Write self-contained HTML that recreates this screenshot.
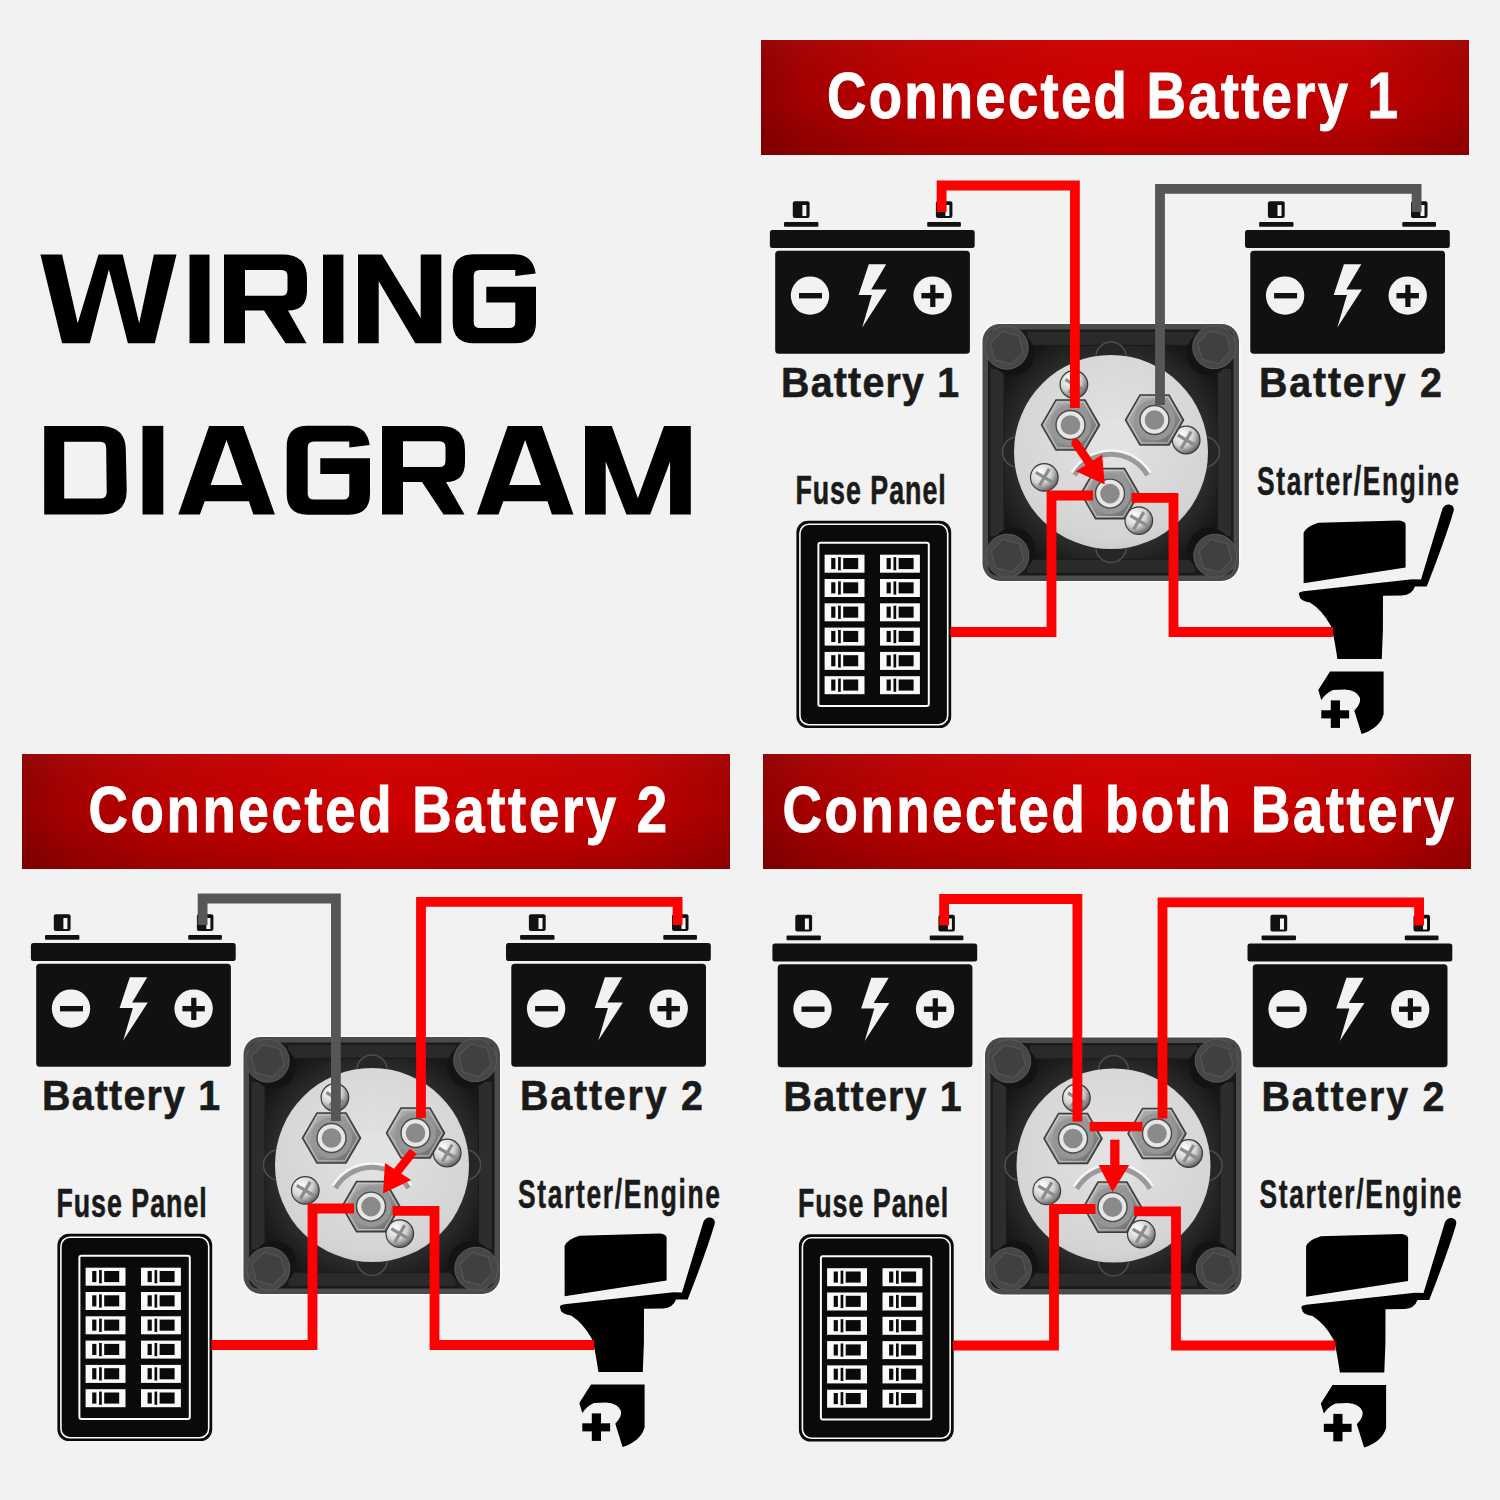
<!DOCTYPE html><html><head><meta charset="utf-8"><style>html,body{margin:0;padding:0;background:#f2f2f2;}svg{display:block;}</style></head><body>
<svg width="1500" height="1500" viewBox="0 0 1500 1500">
<defs>
<linearGradient id="gHdr" x1="0" y1="0" x2="1" y2="0">
<stop offset="0" stop-color="#900000"/><stop offset="0.06" stop-color="#a40000"/><stop offset="0.2" stop-color="#bb0000"/><stop offset="0.5" stop-color="#cf0000"/><stop offset="0.85" stop-color="#c20000"/><stop offset="1" stop-color="#a40000"/>
</linearGradient>
<linearGradient id="gHdrV" x1="0" y1="0" x2="0" y2="1">
<stop offset="0" stop-color="#ffffff" stop-opacity="0.03"/><stop offset="0.5" stop-color="#000000" stop-opacity="0"/><stop offset="1" stop-color="#000000" stop-opacity="0.16"/>
</linearGradient>
<radialGradient id="gDisc" cx="0.5" cy="0.4" r="0.65">
<stop offset="0" stop-color="#e2e2e2"/><stop offset="0.85" stop-color="#d4d4d4"/><stop offset="1" stop-color="#c6c6c6"/>
</radialGradient>
<radialGradient id="gRecess" cx="0.5" cy="0.5" r="0.6">
<stop offset="0.55" stop-color="#3e3e3e"/><stop offset="1" stop-color="#161616"/>
</radialGradient>
<radialGradient id="gScrew" cx="0.35" cy="0.3" r="0.75">
<stop offset="0" stop-color="#ffffff"/><stop offset="0.55" stop-color="#d2d2d2"/><stop offset="1" stop-color="#5a5a5a"/>
</radialGradient>
<linearGradient id="gNut" x1="0" y1="0" x2="1" y2="1">
<stop offset="0" stop-color="#b8b8b8"/><stop offset="0.5" stop-color="#929292"/><stop offset="1" stop-color="#666666"/>
</linearGradient>
</defs>
<rect x="0" y="0" width="1500" height="1500" fill="#f2f2f2"/>
<g fill="#000" fill-rule="evenodd"><path d="M40.4,254.6 L62.1,254.6 L77.7,323.2 L98.5,254.6 L122.7,254.6 L139.2,323.2 L153.9,254.6 L176.5,254.6 L154.8,343.2 L127.9,343.2 L108.9,269.5 L89.8,343.2 L62.1,343.2 Z"/><rect x="189.5" y="254.6" width="20" height="88.6"/><path transform="translate(224,254.6)" d="M0,0 L59,0 Q83,0 83,24 L83,36 Q83,56 64,56 L82.5,88.6 L61.5,88.6 L40,56 L21,56 L21,88.6 L0,88.6 Z M21,15.3 L57.5,15.3 Q63.5,15.3 63.5,21.3 L63.5,35.2 Q63.5,41.2 57.5,41.2 L21,41.2 Z"/><rect x="323" y="254.6" width="20.4" height="88.6"/><path d="M358,254.6 L382,254.6 L420.7,318 L420.7,254.6 L441.3,254.6 L441.3,343.2 L415.3,343.2 L378.7,281.3 L378.7,343.2 L358,343.2 Z"/><path transform="translate(452.7,254.2)" d="M0,21 Q0,0 21,0 L62,0 Q80,0 83,19.2 L62.6,21.8 L62.6,15.8 L27,15.8 Q21,15.8 21,21.8 L21,67.7 Q21,73.7 27,73.7 L56.6,73.7 Q62.6,73.7 62.6,67.7 L62.6,48.2 L33.6,48.2 L33.6,32.5 L83.3,32.5 L83.3,68 Q83.3,89 62.3,89 L21,89 Q0,89 0,68 Z"/><path transform="translate(44.2,425.9)" d="M0,0 L57.5,0 Q81.6,1 81.6,24 L82.5,64 Q82.5,88.6 57.5,88.6 L0,88.6 Z M20,15.9 L55.8,15.9 Q62,15.9 62,22 L62.5,66.5 Q62.5,72.5 56,72.5 L20,72.5 Z"/><rect x="142.5" y="425.9" width="20.8" height="88.6"/><path transform="translate(178.3,425.9)" d="M0,88.6 L30.8,0 L65.1,0 L96.6,88.6 L75,88.6 L70.6,75.3 L26.4,75.3 L21.6,88.6 Z M48.2,14 L32.3,59.1 L64,59.1 Z"/><path transform="translate(286.7,425.7)" d="M0,21 Q0,0 21,0 L62,0 Q80,0 83,19.2 L62.6,21.8 L62.6,15.8 L27,15.8 Q21,15.8 21,21.8 L21,67.7 Q21,73.7 27,73.7 L56.6,73.7 Q62.6,73.7 62.6,67.7 L62.6,48.2 L33.6,48.2 L33.6,32.5 L83.3,32.5 L83.3,68 Q83.3,89 62.3,89 L21,89 Q0,89 0,68 Z"/><path transform="translate(382,425.9)" d="M0,0 L59,0 Q83,0 83,24 L83,36 Q83,56 64,56 L82.5,88.6 L61.5,88.6 L40,56 L21,56 L21,88.6 L0,88.6 Z M21,15.3 L57.5,15.3 Q63.5,15.3 63.5,21.3 L63.5,35.2 Q63.5,41.2 57.5,41.2 L21,41.2 Z"/><path transform="translate(476.9,425.9)" d="M0,88.6 L30.8,0 L65.1,0 L96.6,88.6 L75,88.6 L70.6,75.3 L26.4,75.3 L21.6,88.6 Z M48.2,14 L32.3,59.1 L64,59.1 Z"/><path d="M585,425.9 L611.8,425.9 L637.9,498.2 L664,425.9 L690.8,425.9 L690.8,514.5 L670.1,514.5 L670.1,461.4 L650.2,514.5 L626.4,514.5 L605.7,461.4 L605.7,514.5 L585,514.5 Z"/></g>
<rect x="761" y="40" width="708" height="115" fill="url(#gHdr)"/><rect x="761" y="40" width="708" height="115" fill="url(#gHdrV)"/><text transform="scale(0.84,1)" x="984.52" y="118.5" font-family="'Liberation Sans', sans-serif" font-weight="bold" font-size="65" textLength="679.76" lengthAdjust="spacing" fill="#ffffff" stroke="#ffffff" stroke-width="1.0">Connected Battery 1</text>
<rect x="22" y="754" width="708" height="115" fill="url(#gHdr)"/><rect x="22" y="754" width="708" height="115" fill="url(#gHdrV)"/><text transform="scale(0.84,1)" x="105.24" y="832.5" font-family="'Liberation Sans', sans-serif" font-weight="bold" font-size="65" textLength="688.81" lengthAdjust="spacing" fill="#ffffff" stroke="#ffffff" stroke-width="1.0">Connected Battery 2</text>
<rect x="763" y="754" width="708" height="115" fill="url(#gHdr)"/><rect x="763" y="754" width="708" height="115" fill="url(#gHdrV)"/><text transform="scale(0.84,1)" x="931.67" y="832.5" font-family="'Liberation Sans', sans-serif" font-weight="bold" font-size="65" textLength="799.52" lengthAdjust="spacing" fill="#ffffff" stroke="#ffffff" stroke-width="1.0">Connected both Battery</text>
<g transform="translate(769.9,230.0)"><rect x="14.1" y="-8" width="34.4" height="4.8" rx="1" fill="#111"/><rect x="157.3" y="-8" width="33.7" height="4.8" rx="1" fill="#111"/><rect x="22.9" y="-28.8" width="16.8" height="16.8" rx="2" fill="#111"/><rect x="32.5" y="-25" width="4" height="11" fill="#f4f4f4"/><rect x="166" y="-28.8" width="16.5" height="16.8" rx="2" fill="#111"/><rect x="175.5" y="-25" width="4" height="11" fill="#f4f4f4"/><rect x="0" y="0" width="204.8" height="18" rx="2.5" fill="#111"/><rect x="5.3" y="20.8" width="194.7" height="103" rx="3.5" fill="#111"/><circle cx="40.1" cy="65.6" r="19.2" fill="#f2f2f2"/><rect x="29.1" y="63" width="23" height="5.4" fill="#111"/><circle cx="162.7" cy="65.6" r="19.2" fill="#f2f2f2"/><rect x="151.5" y="63" width="22.4" height="5.4" fill="#111"/><rect x="160.3" y="54.8" width="5.2" height="22.2" fill="#111"/><path d="M98.9,34.2 L116.3,34.2 L101.3,59.6 L116.9,59.6 L92.3,97.4 L101.9,65 L88.7,65 Z" fill="#f2f2f2"/></g><g transform="translate(1245.0,230.0)"><rect x="14.1" y="-8" width="34.4" height="4.8" rx="1" fill="#111"/><rect x="157.3" y="-8" width="33.7" height="4.8" rx="1" fill="#111"/><rect x="22.9" y="-28.8" width="16.8" height="16.8" rx="2" fill="#111"/><rect x="32.5" y="-25" width="4" height="11" fill="#f4f4f4"/><rect x="166" y="-28.8" width="16.5" height="16.8" rx="2" fill="#111"/><rect x="175.5" y="-25" width="4" height="11" fill="#f4f4f4"/><rect x="0" y="0" width="204.8" height="18" rx="2.5" fill="#111"/><rect x="5.3" y="20.8" width="194.7" height="103" rx="3.5" fill="#111"/><circle cx="40.1" cy="65.6" r="19.2" fill="#f2f2f2"/><rect x="29.1" y="63" width="23" height="5.4" fill="#111"/><circle cx="162.7" cy="65.6" r="19.2" fill="#f2f2f2"/><rect x="151.5" y="63" width="22.4" height="5.4" fill="#111"/><rect x="160.3" y="54.8" width="5.2" height="22.2" fill="#111"/><path d="M98.9,34.2 L116.3,34.2 L101.3,59.6 L116.9,59.6 L92.3,97.4 L101.9,65 L88.7,65 Z" fill="#f2f2f2"/></g><g transform="translate(982.5,323.9)"><rect x="-1.5" y="-1.5" width="259.5" height="260" rx="19" fill="#fafafa"/><rect x="0" y="0" width="256.5" height="257" rx="17.5" fill="#4b4b4b"/><rect x="5.5" y="5.5" width="245.5" height="246" rx="9" fill="#1a1a1a"/><rect x="8" y="45" width="13" height="167" fill="#2d2d2d"/><rect x="235.5" y="45" width="13" height="167" fill="#2d2d2d"/><rect x="45" y="8" width="167" height="13" fill="#2a2a2a"/><rect x="45" y="236" width="167" height="13" fill="#2a2a2a"/><rect x="22" y="22" width="212.5" height="213" rx="6" fill="url(#gRecess)"/><circle cx="30.2" cy="29.8" r="22" fill="#131313"/><circle cx="24.2" cy="23.8" r="21.5" fill="#474747" stroke="#5a5a5a" stroke-width="1"/><polygon points="40.6,28.2 28.6,40.2 12.2,35.8 7.8,19.4 19.8,7.4 36.2,11.8" fill="#404040" stroke="#545454" stroke-width="1.2"/><circle cx="225.7" cy="29.3" r="22" fill="#131313"/><circle cx="231.7" cy="23.3" r="21.5" fill="#474747" stroke="#5a5a5a" stroke-width="1"/><polygon points="248.1,27.7 236.1,39.7 219.7,35.3 215.3,18.9 227.3,6.9 243.7,11.3" fill="#404040" stroke="#545454" stroke-width="1.2"/><circle cx="30.9" cy="225.8" r="22" fill="#131313"/><circle cx="24.9" cy="231.8" r="21.5" fill="#474747" stroke="#5a5a5a" stroke-width="1"/><polygon points="41.3,236.2 29.3,248.2 12.9,243.8 8.5,227.4 20.5,215.4 36.9,219.8" fill="#404040" stroke="#545454" stroke-width="1.2"/><circle cx="226.8" cy="225.8" r="22" fill="#131313"/><circle cx="232.8" cy="231.8" r="21.5" fill="#474747" stroke="#5a5a5a" stroke-width="1"/><polygon points="249.2,236.2 237.2,248.2 220.8,243.8 216.4,227.4 228.4,215.4 244.8,219.8" fill="#404040" stroke="#545454" stroke-width="1.2"/><circle cx="128.5" cy="33" r="15" fill="#262626" stroke="#4e4e4e" stroke-width="1.5"/><circle cx="35" cy="128" r="15" fill="#262626" stroke="#4e4e4e" stroke-width="1.5"/><circle cx="222" cy="128" r="15" fill="#262626" stroke="#4e4e4e" stroke-width="1.5"/><circle cx="128.5" cy="223.5" r="15" fill="#262626" stroke="#4e4e4e" stroke-width="1.5"/><circle cx="128.5" cy="128.1" r="97" fill="url(#gDisc)"/><polygon points="88,98 172,93 128,185" fill="#e4e4e4" opacity="0.55"/><path d="M91.5,151 A43,43 0 0 1 165.5,151" fill="none" stroke="#9a9a9a" stroke-width="6"/><path d="M89,149 A46,46 0 0 1 168,149" fill="none" stroke="#f6f6f6" stroke-width="2.5"/><circle cx="91.4" cy="60.6" r="13.8" fill="url(#gScrew)" stroke="#3a3a3a" stroke-width="1.2"/><path d="M82.9,55.6 L99.9,65.6 M96.4,52.1 L86.4,69.1" stroke="#8c8c8c" stroke-width="3.2"/><circle cx="203.7" cy="116.1" r="13.8" fill="url(#gScrew)" stroke="#3a3a3a" stroke-width="1.2"/><path d="M195.2,111.1 L212.2,121.1 M208.7,107.6 L198.7,124.6" stroke="#8c8c8c" stroke-width="3.2"/><circle cx="61.8" cy="153.5" r="13.8" fill="url(#gScrew)" stroke="#3a3a3a" stroke-width="1.2"/><path d="M53.3,148.5 L70.3,158.5 M66.8,145.0 L56.8,162.0" stroke="#8c8c8c" stroke-width="3.2"/><circle cx="156.3" cy="196.7" r="13.8" fill="url(#gScrew)" stroke="#3a3a3a" stroke-width="1.2"/><path d="M147.8,191.7 L164.8,201.7 M161.3,188.2 L151.3,205.2" stroke="#8c8c8c" stroke-width="3.2"/><polygon points="117.0,101.1 102.5,126.2 73.5,126.2 59.0,101.1 73.5,76.0 102.5,76.0" fill="url(#gNut)" stroke="#3c3c3c" stroke-width="1.5"/><polygon points="114.5,101.1 101.2,124.0 74.8,124.0 61.5,101.1 74.7,78.2 101.2,78.2" fill="none" stroke="#d8d8d8" stroke-width="1" opacity="0.7"/><circle cx="88" cy="101.1" r="20.5" fill="#969696"/><circle cx="88" cy="101.1" r="15.2" fill="#4a4a4a"/><circle cx="88" cy="101.1" r="11.8" fill="#8a8a8a" stroke="#e6e6e6" stroke-width="4"/><polygon points="201.0,96.1 186.5,121.2 157.5,121.2 143.0,96.1 157.5,71.0 186.5,71.0" fill="url(#gNut)" stroke="#3c3c3c" stroke-width="1.5"/><polygon points="198.5,96.1 185.2,119.0 158.8,119.0 145.5,96.1 158.8,73.2 185.2,73.2" fill="none" stroke="#d8d8d8" stroke-width="1" opacity="0.7"/><circle cx="172" cy="96.1" r="20.5" fill="#969696"/><circle cx="172" cy="96.1" r="15.2" fill="#4a4a4a"/><circle cx="172" cy="96.1" r="11.8" fill="#8a8a8a" stroke="#e6e6e6" stroke-width="4"/><polygon points="156.5,169.7 142.0,194.8 113.0,194.8 98.5,169.7 113.0,144.6 142.0,144.6" fill="url(#gNut)" stroke="#3c3c3c" stroke-width="1.5"/><polygon points="154.0,169.7 140.8,192.6 114.2,192.6 101.0,169.7 114.2,146.8 140.8,146.8" fill="none" stroke="#d8d8d8" stroke-width="1" opacity="0.7"/><circle cx="127.5" cy="169.7" r="20.5" fill="#969696"/><circle cx="127.5" cy="169.7" r="15.2" fill="#4a4a4a"/><circle cx="127.5" cy="169.7" r="11.8" fill="#8a8a8a" stroke="#e6e6e6" stroke-width="4"/></g><g transform="translate(796.4,520.8)"><rect x="0" y="0" width="154.8" height="207.3" rx="11.5" fill="#0a0a0a"/><rect x="3.5" y="3.4" width="147.8" height="200.5" rx="9" fill="none" stroke="#fafafa" stroke-width="1.6"/><rect x="22" y="22" width="110.4" height="163.2" rx="2" fill="none" stroke="#fafafa" stroke-width="2"/><rect x="28.2" y="33.9" width="39.9" height="18" fill="#fafafa"/><rect x="34.8" y="37.2" width="4.2" height="11.1" fill="#0a0a0a"/><rect x="41.7" y="36.3" width="2.7" height="13.2" fill="#0a0a0a"/><rect x="46.8" y="37.2" width="15" height="11.1" fill="#0a0a0a"/><rect x="28.2" y="58.2" width="39.9" height="18" fill="#fafafa"/><rect x="34.8" y="61.5" width="4.2" height="11.1" fill="#0a0a0a"/><rect x="41.7" y="60.6" width="2.7" height="13.2" fill="#0a0a0a"/><rect x="46.8" y="61.5" width="15" height="11.1" fill="#0a0a0a"/><rect x="28.2" y="82.5" width="39.9" height="18" fill="#fafafa"/><rect x="34.8" y="85.8" width="4.2" height="11.1" fill="#0a0a0a"/><rect x="41.7" y="84.9" width="2.7" height="13.2" fill="#0a0a0a"/><rect x="46.8" y="85.8" width="15" height="11.1" fill="#0a0a0a"/><rect x="28.2" y="106.8" width="39.9" height="18" fill="#fafafa"/><rect x="34.8" y="110.1" width="4.2" height="11.1" fill="#0a0a0a"/><rect x="41.7" y="109.2" width="2.7" height="13.2" fill="#0a0a0a"/><rect x="46.8" y="110.1" width="15" height="11.1" fill="#0a0a0a"/><rect x="28.2" y="131.1" width="39.9" height="18" fill="#fafafa"/><rect x="34.8" y="134.4" width="4.2" height="11.1" fill="#0a0a0a"/><rect x="41.7" y="133.5" width="2.7" height="13.2" fill="#0a0a0a"/><rect x="46.8" y="134.4" width="15" height="11.1" fill="#0a0a0a"/><rect x="28.2" y="155.4" width="39.9" height="18" fill="#fafafa"/><rect x="34.8" y="158.7" width="4.2" height="11.1" fill="#0a0a0a"/><rect x="41.7" y="157.8" width="2.7" height="13.2" fill="#0a0a0a"/><rect x="46.8" y="158.7" width="15" height="11.1" fill="#0a0a0a"/><rect x="83.6" y="33.9" width="39.9" height="18" fill="#fafafa"/><rect x="90.2" y="37.2" width="4.2" height="11.1" fill="#0a0a0a"/><rect x="97.1" y="36.3" width="2.7" height="13.2" fill="#0a0a0a"/><rect x="102.2" y="37.2" width="15" height="11.1" fill="#0a0a0a"/><rect x="83.6" y="58.2" width="39.9" height="18" fill="#fafafa"/><rect x="90.2" y="61.5" width="4.2" height="11.1" fill="#0a0a0a"/><rect x="97.1" y="60.6" width="2.7" height="13.2" fill="#0a0a0a"/><rect x="102.2" y="61.5" width="15" height="11.1" fill="#0a0a0a"/><rect x="83.6" y="82.5" width="39.9" height="18" fill="#fafafa"/><rect x="90.2" y="85.8" width="4.2" height="11.1" fill="#0a0a0a"/><rect x="97.1" y="84.9" width="2.7" height="13.2" fill="#0a0a0a"/><rect x="102.2" y="85.8" width="15" height="11.1" fill="#0a0a0a"/><rect x="83.6" y="106.8" width="39.9" height="18" fill="#fafafa"/><rect x="90.2" y="110.1" width="4.2" height="11.1" fill="#0a0a0a"/><rect x="97.1" y="109.2" width="2.7" height="13.2" fill="#0a0a0a"/><rect x="102.2" y="110.1" width="15" height="11.1" fill="#0a0a0a"/><rect x="83.6" y="131.1" width="39.9" height="18" fill="#fafafa"/><rect x="90.2" y="134.4" width="4.2" height="11.1" fill="#0a0a0a"/><rect x="97.1" y="133.5" width="2.7" height="13.2" fill="#0a0a0a"/><rect x="102.2" y="134.4" width="15" height="11.1" fill="#0a0a0a"/><rect x="83.6" y="155.4" width="39.9" height="18" fill="#fafafa"/><rect x="90.2" y="158.7" width="4.2" height="11.1" fill="#0a0a0a"/><rect x="97.1" y="157.8" width="2.7" height="13.2" fill="#0a0a0a"/><rect x="102.2" y="158.7" width="15" height="11.1" fill="#0a0a0a"/></g><g transform="translate(0.0,0.0)" fill="#000"><path d="M1303.6,583.3 L1303.6,533 Q1305,527 1318.3,522.7 L1398.8,520.4 Q1405.6,521 1405.6,525 L1405.6,567.4 Z"/><path d="M1299.6,596 Q1297,592 1303.6,591.2 L1412.4,579.3 L1421,579.5 L1442.5,508.5 Q1445,504 1449.5,504.5 Q1455,506 1453.5,511.5 Q1445,540 1426.7,586.5 L1415,586.5 Q1412,595 1402,595.5 L1383,595.8 L1382.9,630 L1381.8,659 L1337.4,659 Q1333,630 1330.8,625.8 Q1322,610 1310,602.6 Q1299,600 1299.6,596 Z"/><path d="M1330,671.4 L1383.6,671.4 L1383.6,714.3 Q1380,728 1361.6,734.1 L1354.3,710.7 Q1361,704 1360,698 Q1357,690 1345,689.5 L1333,690 Q1326,693 1321.3,700 L1318.3,690.1 Z"/><rect x="1321.3" y="710.3" width="27.8" height="8.1"/><rect x="1330.8" y="700.4" width="9.2" height="27.5"/></g><text transform="scale(0.92,1)" x="848.91" y="397.2" font-family="'Liberation Sans', sans-serif" font-weight="bold" font-size="42.8" textLength="193.70" lengthAdjust="spacing" fill="#1a1a1a" stroke="#1a1a1a" stroke-width="0.6">Battery 1</text><text transform="scale(0.92,1)" x="1368.48" y="397.2" font-family="'Liberation Sans', sans-serif" font-weight="bold" font-size="42.8" textLength="198.91" lengthAdjust="spacing" fill="#1a1a1a" stroke="#1a1a1a" stroke-width="0.6">Battery 2</text><text transform="scale(0.67,1)" x="1187.16" y="503.9" font-family="'Liberation Sans', sans-serif" font-weight="bold" font-size="40" textLength="224.48" lengthAdjust="spacing" fill="#1a1a1a" stroke="#1a1a1a" stroke-width="0.6">Fuse Panel</text><text transform="scale(0.66,1)" x="1904.55" y="495.0" font-family="'Liberation Sans', sans-serif" font-weight="bold" font-size="40" textLength="306.06" lengthAdjust="spacing" fill="#1a1a1a" stroke="#1a1a1a" stroke-width="0.5">Starter/Engine</text><path d="M1093.0,495.5 L1051.5,495.5 L1051.5,632.0 L950.4,632.0" fill="none" stroke="#ff0000" stroke-width="9.8" stroke-linejoin="miter" stroke-linecap="butt"/><path d="M1131.6,497.9 L1173.5,497.9 L1173.5,632.0 L1333.0,632.0" fill="none" stroke="#ff0000" stroke-width="9.8" stroke-linejoin="miter" stroke-linecap="butt"/><path d="M941.6,212.0 L941.6,185.5 L1074.9,185.5 L1074.9,408.0" fill="none" stroke="#ff0000" stroke-width="9.8" stroke-linejoin="miter" stroke-linecap="butt"/><path d="M1416.6,212.0 L1416.6,188.8 L1160.0,188.8 L1160.0,405.0" fill="none" stroke="#565656" stroke-width="9.8" stroke-linejoin="miter" stroke-linecap="butt"/><path d="M1075.2,442.5 L1090.0,464.0" fill="none" stroke="#ff0000" stroke-width="8.5" stroke-linejoin="miter" stroke-linecap="butt"/><circle cx="1075.6" cy="443" r="4.25" fill="#ff0000"/><polygon points="1076,471.2 1102.1,454.7 1104.8,484.5" fill="#ff0000"/>
<g transform="translate(30.9,943.0)"><rect x="14.1" y="-8" width="34.4" height="4.8" rx="1" fill="#111"/><rect x="157.3" y="-8" width="33.7" height="4.8" rx="1" fill="#111"/><rect x="22.9" y="-28.8" width="16.8" height="16.8" rx="2" fill="#111"/><rect x="32.5" y="-25" width="4" height="11" fill="#f4f4f4"/><rect x="166" y="-28.8" width="16.5" height="16.8" rx="2" fill="#111"/><rect x="175.5" y="-25" width="4" height="11" fill="#f4f4f4"/><rect x="0" y="0" width="204.8" height="18" rx="2.5" fill="#111"/><rect x="5.3" y="20.8" width="194.7" height="103" rx="3.5" fill="#111"/><circle cx="40.1" cy="65.6" r="19.2" fill="#f2f2f2"/><rect x="29.1" y="63" width="23" height="5.4" fill="#111"/><circle cx="162.7" cy="65.6" r="19.2" fill="#f2f2f2"/><rect x="151.5" y="63" width="22.4" height="5.4" fill="#111"/><rect x="160.3" y="54.8" width="5.2" height="22.2" fill="#111"/><path d="M98.9,34.2 L116.3,34.2 L101.3,59.6 L116.9,59.6 L92.3,97.4 L101.9,65 L88.7,65 Z" fill="#f2f2f2"/></g><g transform="translate(506.0,943.0)"><rect x="14.1" y="-8" width="34.4" height="4.8" rx="1" fill="#111"/><rect x="157.3" y="-8" width="33.7" height="4.8" rx="1" fill="#111"/><rect x="22.9" y="-28.8" width="16.8" height="16.8" rx="2" fill="#111"/><rect x="32.5" y="-25" width="4" height="11" fill="#f4f4f4"/><rect x="166" y="-28.8" width="16.5" height="16.8" rx="2" fill="#111"/><rect x="175.5" y="-25" width="4" height="11" fill="#f4f4f4"/><rect x="0" y="0" width="204.8" height="18" rx="2.5" fill="#111"/><rect x="5.3" y="20.8" width="194.7" height="103" rx="3.5" fill="#111"/><circle cx="40.1" cy="65.6" r="19.2" fill="#f2f2f2"/><rect x="29.1" y="63" width="23" height="5.4" fill="#111"/><circle cx="162.7" cy="65.6" r="19.2" fill="#f2f2f2"/><rect x="151.5" y="63" width="22.4" height="5.4" fill="#111"/><rect x="160.3" y="54.8" width="5.2" height="22.2" fill="#111"/><path d="M98.9,34.2 L116.3,34.2 L101.3,59.6 L116.9,59.6 L92.3,97.4 L101.9,65 L88.7,65 Z" fill="#f2f2f2"/></g><g transform="translate(243.5,1036.9)"><rect x="-1.5" y="-1.5" width="259.5" height="260" rx="19" fill="#fafafa"/><rect x="0" y="0" width="256.5" height="257" rx="17.5" fill="#4b4b4b"/><rect x="5.5" y="5.5" width="245.5" height="246" rx="9" fill="#1a1a1a"/><rect x="8" y="45" width="13" height="167" fill="#2d2d2d"/><rect x="235.5" y="45" width="13" height="167" fill="#2d2d2d"/><rect x="45" y="8" width="167" height="13" fill="#2a2a2a"/><rect x="45" y="236" width="167" height="13" fill="#2a2a2a"/><rect x="22" y="22" width="212.5" height="213" rx="6" fill="url(#gRecess)"/><circle cx="30.2" cy="29.8" r="22" fill="#131313"/><circle cx="24.2" cy="23.8" r="21.5" fill="#474747" stroke="#5a5a5a" stroke-width="1"/><polygon points="40.6,28.2 28.6,40.2 12.2,35.8 7.8,19.4 19.8,7.4 36.2,11.8" fill="#404040" stroke="#545454" stroke-width="1.2"/><circle cx="225.7" cy="29.3" r="22" fill="#131313"/><circle cx="231.7" cy="23.3" r="21.5" fill="#474747" stroke="#5a5a5a" stroke-width="1"/><polygon points="248.1,27.7 236.1,39.7 219.7,35.3 215.3,18.9 227.3,6.9 243.7,11.3" fill="#404040" stroke="#545454" stroke-width="1.2"/><circle cx="30.9" cy="225.8" r="22" fill="#131313"/><circle cx="24.9" cy="231.8" r="21.5" fill="#474747" stroke="#5a5a5a" stroke-width="1"/><polygon points="41.3,236.2 29.3,248.2 12.9,243.8 8.5,227.4 20.5,215.4 36.9,219.8" fill="#404040" stroke="#545454" stroke-width="1.2"/><circle cx="226.8" cy="225.8" r="22" fill="#131313"/><circle cx="232.8" cy="231.8" r="21.5" fill="#474747" stroke="#5a5a5a" stroke-width="1"/><polygon points="249.2,236.2 237.2,248.2 220.8,243.8 216.4,227.4 228.4,215.4 244.8,219.8" fill="#404040" stroke="#545454" stroke-width="1.2"/><circle cx="128.5" cy="33" r="15" fill="#262626" stroke="#4e4e4e" stroke-width="1.5"/><circle cx="35" cy="128" r="15" fill="#262626" stroke="#4e4e4e" stroke-width="1.5"/><circle cx="222" cy="128" r="15" fill="#262626" stroke="#4e4e4e" stroke-width="1.5"/><circle cx="128.5" cy="223.5" r="15" fill="#262626" stroke="#4e4e4e" stroke-width="1.5"/><circle cx="128.5" cy="128.1" r="97" fill="url(#gDisc)"/><polygon points="88,98 172,93 128,185" fill="#e4e4e4" opacity="0.55"/><path d="M91.5,151 A43,43 0 0 1 165.5,151" fill="none" stroke="#9a9a9a" stroke-width="6"/><path d="M89,149 A46,46 0 0 1 168,149" fill="none" stroke="#f6f6f6" stroke-width="2.5"/><circle cx="91.4" cy="60.6" r="13.8" fill="url(#gScrew)" stroke="#3a3a3a" stroke-width="1.2"/><path d="M82.9,55.6 L99.9,65.6 M96.4,52.1 L86.4,69.1" stroke="#8c8c8c" stroke-width="3.2"/><circle cx="203.7" cy="116.1" r="13.8" fill="url(#gScrew)" stroke="#3a3a3a" stroke-width="1.2"/><path d="M195.2,111.1 L212.2,121.1 M208.7,107.6 L198.7,124.6" stroke="#8c8c8c" stroke-width="3.2"/><circle cx="61.8" cy="153.5" r="13.8" fill="url(#gScrew)" stroke="#3a3a3a" stroke-width="1.2"/><path d="M53.3,148.5 L70.3,158.5 M66.8,145.0 L56.8,162.0" stroke="#8c8c8c" stroke-width="3.2"/><circle cx="156.3" cy="196.7" r="13.8" fill="url(#gScrew)" stroke="#3a3a3a" stroke-width="1.2"/><path d="M147.8,191.7 L164.8,201.7 M161.3,188.2 L151.3,205.2" stroke="#8c8c8c" stroke-width="3.2"/><polygon points="117.0,101.1 102.5,126.2 73.5,126.2 59.0,101.1 73.5,76.0 102.5,76.0" fill="url(#gNut)" stroke="#3c3c3c" stroke-width="1.5"/><polygon points="114.5,101.1 101.2,124.0 74.8,124.0 61.5,101.1 74.7,78.2 101.2,78.2" fill="none" stroke="#d8d8d8" stroke-width="1" opacity="0.7"/><circle cx="88" cy="101.1" r="20.5" fill="#969696"/><circle cx="88" cy="101.1" r="15.2" fill="#4a4a4a"/><circle cx="88" cy="101.1" r="11.8" fill="#8a8a8a" stroke="#e6e6e6" stroke-width="4"/><polygon points="201.0,96.1 186.5,121.2 157.5,121.2 143.0,96.1 157.5,71.0 186.5,71.0" fill="url(#gNut)" stroke="#3c3c3c" stroke-width="1.5"/><polygon points="198.5,96.1 185.2,119.0 158.8,119.0 145.5,96.1 158.8,73.2 185.2,73.2" fill="none" stroke="#d8d8d8" stroke-width="1" opacity="0.7"/><circle cx="172" cy="96.1" r="20.5" fill="#969696"/><circle cx="172" cy="96.1" r="15.2" fill="#4a4a4a"/><circle cx="172" cy="96.1" r="11.8" fill="#8a8a8a" stroke="#e6e6e6" stroke-width="4"/><polygon points="156.5,169.7 142.0,194.8 113.0,194.8 98.5,169.7 113.0,144.6 142.0,144.6" fill="url(#gNut)" stroke="#3c3c3c" stroke-width="1.5"/><polygon points="154.0,169.7 140.8,192.6 114.2,192.6 101.0,169.7 114.2,146.8 140.8,146.8" fill="none" stroke="#d8d8d8" stroke-width="1" opacity="0.7"/><circle cx="127.5" cy="169.7" r="20.5" fill="#969696"/><circle cx="127.5" cy="169.7" r="15.2" fill="#4a4a4a"/><circle cx="127.5" cy="169.7" r="11.8" fill="#8a8a8a" stroke="#e6e6e6" stroke-width="4"/></g><g transform="translate(57.4,1233.8)"><rect x="0" y="0" width="154.8" height="207.3" rx="11.5" fill="#0a0a0a"/><rect x="3.5" y="3.4" width="147.8" height="200.5" rx="9" fill="none" stroke="#fafafa" stroke-width="1.6"/><rect x="22" y="22" width="110.4" height="163.2" rx="2" fill="none" stroke="#fafafa" stroke-width="2"/><rect x="28.2" y="33.9" width="39.9" height="18" fill="#fafafa"/><rect x="34.8" y="37.2" width="4.2" height="11.1" fill="#0a0a0a"/><rect x="41.7" y="36.3" width="2.7" height="13.2" fill="#0a0a0a"/><rect x="46.8" y="37.2" width="15" height="11.1" fill="#0a0a0a"/><rect x="28.2" y="58.2" width="39.9" height="18" fill="#fafafa"/><rect x="34.8" y="61.5" width="4.2" height="11.1" fill="#0a0a0a"/><rect x="41.7" y="60.6" width="2.7" height="13.2" fill="#0a0a0a"/><rect x="46.8" y="61.5" width="15" height="11.1" fill="#0a0a0a"/><rect x="28.2" y="82.5" width="39.9" height="18" fill="#fafafa"/><rect x="34.8" y="85.8" width="4.2" height="11.1" fill="#0a0a0a"/><rect x="41.7" y="84.9" width="2.7" height="13.2" fill="#0a0a0a"/><rect x="46.8" y="85.8" width="15" height="11.1" fill="#0a0a0a"/><rect x="28.2" y="106.8" width="39.9" height="18" fill="#fafafa"/><rect x="34.8" y="110.1" width="4.2" height="11.1" fill="#0a0a0a"/><rect x="41.7" y="109.2" width="2.7" height="13.2" fill="#0a0a0a"/><rect x="46.8" y="110.1" width="15" height="11.1" fill="#0a0a0a"/><rect x="28.2" y="131.1" width="39.9" height="18" fill="#fafafa"/><rect x="34.8" y="134.4" width="4.2" height="11.1" fill="#0a0a0a"/><rect x="41.7" y="133.5" width="2.7" height="13.2" fill="#0a0a0a"/><rect x="46.8" y="134.4" width="15" height="11.1" fill="#0a0a0a"/><rect x="28.2" y="155.4" width="39.9" height="18" fill="#fafafa"/><rect x="34.8" y="158.7" width="4.2" height="11.1" fill="#0a0a0a"/><rect x="41.7" y="157.8" width="2.7" height="13.2" fill="#0a0a0a"/><rect x="46.8" y="158.7" width="15" height="11.1" fill="#0a0a0a"/><rect x="83.6" y="33.9" width="39.9" height="18" fill="#fafafa"/><rect x="90.2" y="37.2" width="4.2" height="11.1" fill="#0a0a0a"/><rect x="97.1" y="36.3" width="2.7" height="13.2" fill="#0a0a0a"/><rect x="102.2" y="37.2" width="15" height="11.1" fill="#0a0a0a"/><rect x="83.6" y="58.2" width="39.9" height="18" fill="#fafafa"/><rect x="90.2" y="61.5" width="4.2" height="11.1" fill="#0a0a0a"/><rect x="97.1" y="60.6" width="2.7" height="13.2" fill="#0a0a0a"/><rect x="102.2" y="61.5" width="15" height="11.1" fill="#0a0a0a"/><rect x="83.6" y="82.5" width="39.9" height="18" fill="#fafafa"/><rect x="90.2" y="85.8" width="4.2" height="11.1" fill="#0a0a0a"/><rect x="97.1" y="84.9" width="2.7" height="13.2" fill="#0a0a0a"/><rect x="102.2" y="85.8" width="15" height="11.1" fill="#0a0a0a"/><rect x="83.6" y="106.8" width="39.9" height="18" fill="#fafafa"/><rect x="90.2" y="110.1" width="4.2" height="11.1" fill="#0a0a0a"/><rect x="97.1" y="109.2" width="2.7" height="13.2" fill="#0a0a0a"/><rect x="102.2" y="110.1" width="15" height="11.1" fill="#0a0a0a"/><rect x="83.6" y="131.1" width="39.9" height="18" fill="#fafafa"/><rect x="90.2" y="134.4" width="4.2" height="11.1" fill="#0a0a0a"/><rect x="97.1" y="133.5" width="2.7" height="13.2" fill="#0a0a0a"/><rect x="102.2" y="134.4" width="15" height="11.1" fill="#0a0a0a"/><rect x="83.6" y="155.4" width="39.9" height="18" fill="#fafafa"/><rect x="90.2" y="158.7" width="4.2" height="11.1" fill="#0a0a0a"/><rect x="97.1" y="157.8" width="2.7" height="13.2" fill="#0a0a0a"/><rect x="102.2" y="158.7" width="15" height="11.1" fill="#0a0a0a"/></g><g transform="translate(-739.0,713.0)" fill="#000"><path d="M1303.6,583.3 L1303.6,533 Q1305,527 1318.3,522.7 L1398.8,520.4 Q1405.6,521 1405.6,525 L1405.6,567.4 Z"/><path d="M1299.6,596 Q1297,592 1303.6,591.2 L1412.4,579.3 L1421,579.5 L1442.5,508.5 Q1445,504 1449.5,504.5 Q1455,506 1453.5,511.5 Q1445,540 1426.7,586.5 L1415,586.5 Q1412,595 1402,595.5 L1383,595.8 L1382.9,630 L1381.8,659 L1337.4,659 Q1333,630 1330.8,625.8 Q1322,610 1310,602.6 Q1299,600 1299.6,596 Z"/><path d="M1330,671.4 L1383.6,671.4 L1383.6,714.3 Q1380,728 1361.6,734.1 L1354.3,710.7 Q1361,704 1360,698 Q1357,690 1345,689.5 L1333,690 Q1326,693 1321.3,700 L1318.3,690.1 Z"/><rect x="1321.3" y="710.3" width="27.8" height="8.1"/><rect x="1330.8" y="700.4" width="9.2" height="27.5"/></g><text transform="scale(0.92,1)" x="45.65" y="1110.2" font-family="'Liberation Sans', sans-serif" font-weight="bold" font-size="42.8" textLength="193.70" lengthAdjust="spacing" fill="#1a1a1a" stroke="#1a1a1a" stroke-width="0.6">Battery 1</text><text transform="scale(0.92,1)" x="565.22" y="1110.2" font-family="'Liberation Sans', sans-serif" font-weight="bold" font-size="42.8" textLength="198.91" lengthAdjust="spacing" fill="#1a1a1a" stroke="#1a1a1a" stroke-width="0.6">Battery 2</text><text transform="scale(0.67,1)" x="84.18" y="1216.9" font-family="'Liberation Sans', sans-serif" font-weight="bold" font-size="40" textLength="224.48" lengthAdjust="spacing" fill="#1a1a1a" stroke="#1a1a1a" stroke-width="0.6">Fuse Panel</text><text transform="scale(0.66,1)" x="784.85" y="1208.0" font-family="'Liberation Sans', sans-serif" font-weight="bold" font-size="40" textLength="306.06" lengthAdjust="spacing" fill="#1a1a1a" stroke="#1a1a1a" stroke-width="0.5">Starter/Engine</text><path d="M354.0,1208.5 L312.5,1208.5 L312.5,1345.0 L211.4,1345.0" fill="none" stroke="#ff0000" stroke-width="9.8" stroke-linejoin="miter" stroke-linecap="butt"/><path d="M392.6,1210.9 L434.5,1210.9 L434.5,1345.0 L594.0,1345.0" fill="none" stroke="#ff0000" stroke-width="9.8" stroke-linejoin="miter" stroke-linecap="butt"/><path d="M202.6,925.0 L202.6,898.5 L335.9,898.5 L335.9,1121.0" fill="none" stroke="#565656" stroke-width="9.8" stroke-linejoin="miter" stroke-linecap="butt"/><path d="M677.6,925.0 L677.6,901.8 L421.0,901.8 L421.0,1118.0" fill="none" stroke="#ff0000" stroke-width="9.8" stroke-linejoin="miter" stroke-linecap="butt"/><path d="M413.3,1151.3 L397.0,1172.0" fill="none" stroke="#ff0000" stroke-width="8.5" stroke-linejoin="miter" stroke-linecap="butt"/><polygon points="385,1163 411.2,1180 383,1193.5" fill="#ff0000"/>
<g transform="translate(772.4,943.5)"><rect x="14.1" y="-8" width="34.4" height="4.8" rx="1" fill="#111"/><rect x="157.3" y="-8" width="33.7" height="4.8" rx="1" fill="#111"/><rect x="22.9" y="-28.8" width="16.8" height="16.8" rx="2" fill="#111"/><rect x="32.5" y="-25" width="4" height="11" fill="#f4f4f4"/><rect x="166" y="-28.8" width="16.5" height="16.8" rx="2" fill="#111"/><rect x="175.5" y="-25" width="4" height="11" fill="#f4f4f4"/><rect x="0" y="0" width="204.8" height="18" rx="2.5" fill="#111"/><rect x="5.3" y="20.8" width="194.7" height="103" rx="3.5" fill="#111"/><circle cx="40.1" cy="65.6" r="19.2" fill="#f2f2f2"/><rect x="29.1" y="63" width="23" height="5.4" fill="#111"/><circle cx="162.7" cy="65.6" r="19.2" fill="#f2f2f2"/><rect x="151.5" y="63" width="22.4" height="5.4" fill="#111"/><rect x="160.3" y="54.8" width="5.2" height="22.2" fill="#111"/><path d="M98.9,34.2 L116.3,34.2 L101.3,59.6 L116.9,59.6 L92.3,97.4 L101.9,65 L88.7,65 Z" fill="#f2f2f2"/></g><g transform="translate(1247.5,943.5)"><rect x="14.1" y="-8" width="34.4" height="4.8" rx="1" fill="#111"/><rect x="157.3" y="-8" width="33.7" height="4.8" rx="1" fill="#111"/><rect x="22.9" y="-28.8" width="16.8" height="16.8" rx="2" fill="#111"/><rect x="32.5" y="-25" width="4" height="11" fill="#f4f4f4"/><rect x="166" y="-28.8" width="16.5" height="16.8" rx="2" fill="#111"/><rect x="175.5" y="-25" width="4" height="11" fill="#f4f4f4"/><rect x="0" y="0" width="204.8" height="18" rx="2.5" fill="#111"/><rect x="5.3" y="20.8" width="194.7" height="103" rx="3.5" fill="#111"/><circle cx="40.1" cy="65.6" r="19.2" fill="#f2f2f2"/><rect x="29.1" y="63" width="23" height="5.4" fill="#111"/><circle cx="162.7" cy="65.6" r="19.2" fill="#f2f2f2"/><rect x="151.5" y="63" width="22.4" height="5.4" fill="#111"/><rect x="160.3" y="54.8" width="5.2" height="22.2" fill="#111"/><path d="M98.9,34.2 L116.3,34.2 L101.3,59.6 L116.9,59.6 L92.3,97.4 L101.9,65 L88.7,65 Z" fill="#f2f2f2"/></g><g transform="translate(985.0,1037.4)"><rect x="-1.5" y="-1.5" width="259.5" height="260" rx="19" fill="#fafafa"/><rect x="0" y="0" width="256.5" height="257" rx="17.5" fill="#4b4b4b"/><rect x="5.5" y="5.5" width="245.5" height="246" rx="9" fill="#1a1a1a"/><rect x="8" y="45" width="13" height="167" fill="#2d2d2d"/><rect x="235.5" y="45" width="13" height="167" fill="#2d2d2d"/><rect x="45" y="8" width="167" height="13" fill="#2a2a2a"/><rect x="45" y="236" width="167" height="13" fill="#2a2a2a"/><rect x="22" y="22" width="212.5" height="213" rx="6" fill="url(#gRecess)"/><circle cx="30.2" cy="29.8" r="22" fill="#131313"/><circle cx="24.2" cy="23.8" r="21.5" fill="#474747" stroke="#5a5a5a" stroke-width="1"/><polygon points="40.6,28.2 28.6,40.2 12.2,35.8 7.8,19.4 19.8,7.4 36.2,11.8" fill="#404040" stroke="#545454" stroke-width="1.2"/><circle cx="225.7" cy="29.3" r="22" fill="#131313"/><circle cx="231.7" cy="23.3" r="21.5" fill="#474747" stroke="#5a5a5a" stroke-width="1"/><polygon points="248.1,27.7 236.1,39.7 219.7,35.3 215.3,18.9 227.3,6.9 243.7,11.3" fill="#404040" stroke="#545454" stroke-width="1.2"/><circle cx="30.9" cy="225.8" r="22" fill="#131313"/><circle cx="24.9" cy="231.8" r="21.5" fill="#474747" stroke="#5a5a5a" stroke-width="1"/><polygon points="41.3,236.2 29.3,248.2 12.9,243.8 8.5,227.4 20.5,215.4 36.9,219.8" fill="#404040" stroke="#545454" stroke-width="1.2"/><circle cx="226.8" cy="225.8" r="22" fill="#131313"/><circle cx="232.8" cy="231.8" r="21.5" fill="#474747" stroke="#5a5a5a" stroke-width="1"/><polygon points="249.2,236.2 237.2,248.2 220.8,243.8 216.4,227.4 228.4,215.4 244.8,219.8" fill="#404040" stroke="#545454" stroke-width="1.2"/><circle cx="128.5" cy="33" r="15" fill="#262626" stroke="#4e4e4e" stroke-width="1.5"/><circle cx="35" cy="128" r="15" fill="#262626" stroke="#4e4e4e" stroke-width="1.5"/><circle cx="222" cy="128" r="15" fill="#262626" stroke="#4e4e4e" stroke-width="1.5"/><circle cx="128.5" cy="223.5" r="15" fill="#262626" stroke="#4e4e4e" stroke-width="1.5"/><circle cx="128.5" cy="128.1" r="97" fill="url(#gDisc)"/><polygon points="88,98 172,93 128,185" fill="#e4e4e4" opacity="0.55"/><path d="M91.5,151 A43,43 0 0 1 165.5,151" fill="none" stroke="#9a9a9a" stroke-width="6"/><path d="M89,149 A46,46 0 0 1 168,149" fill="none" stroke="#f6f6f6" stroke-width="2.5"/><circle cx="91.4" cy="60.6" r="13.8" fill="url(#gScrew)" stroke="#3a3a3a" stroke-width="1.2"/><path d="M82.9,55.6 L99.9,65.6 M96.4,52.1 L86.4,69.1" stroke="#8c8c8c" stroke-width="3.2"/><circle cx="203.7" cy="116.1" r="13.8" fill="url(#gScrew)" stroke="#3a3a3a" stroke-width="1.2"/><path d="M195.2,111.1 L212.2,121.1 M208.7,107.6 L198.7,124.6" stroke="#8c8c8c" stroke-width="3.2"/><circle cx="61.8" cy="153.5" r="13.8" fill="url(#gScrew)" stroke="#3a3a3a" stroke-width="1.2"/><path d="M53.3,148.5 L70.3,158.5 M66.8,145.0 L56.8,162.0" stroke="#8c8c8c" stroke-width="3.2"/><circle cx="156.3" cy="196.7" r="13.8" fill="url(#gScrew)" stroke="#3a3a3a" stroke-width="1.2"/><path d="M147.8,191.7 L164.8,201.7 M161.3,188.2 L151.3,205.2" stroke="#8c8c8c" stroke-width="3.2"/><polygon points="117.0,101.1 102.5,126.2 73.5,126.2 59.0,101.1 73.5,76.0 102.5,76.0" fill="url(#gNut)" stroke="#3c3c3c" stroke-width="1.5"/><polygon points="114.5,101.1 101.2,124.0 74.8,124.0 61.5,101.1 74.7,78.2 101.2,78.2" fill="none" stroke="#d8d8d8" stroke-width="1" opacity="0.7"/><circle cx="88" cy="101.1" r="20.5" fill="#969696"/><circle cx="88" cy="101.1" r="15.2" fill="#4a4a4a"/><circle cx="88" cy="101.1" r="11.8" fill="#8a8a8a" stroke="#e6e6e6" stroke-width="4"/><polygon points="201.0,96.1 186.5,121.2 157.5,121.2 143.0,96.1 157.5,71.0 186.5,71.0" fill="url(#gNut)" stroke="#3c3c3c" stroke-width="1.5"/><polygon points="198.5,96.1 185.2,119.0 158.8,119.0 145.5,96.1 158.8,73.2 185.2,73.2" fill="none" stroke="#d8d8d8" stroke-width="1" opacity="0.7"/><circle cx="172" cy="96.1" r="20.5" fill="#969696"/><circle cx="172" cy="96.1" r="15.2" fill="#4a4a4a"/><circle cx="172" cy="96.1" r="11.8" fill="#8a8a8a" stroke="#e6e6e6" stroke-width="4"/><polygon points="156.5,169.7 142.0,194.8 113.0,194.8 98.5,169.7 113.0,144.6 142.0,144.6" fill="url(#gNut)" stroke="#3c3c3c" stroke-width="1.5"/><polygon points="154.0,169.7 140.8,192.6 114.2,192.6 101.0,169.7 114.2,146.8 140.8,146.8" fill="none" stroke="#d8d8d8" stroke-width="1" opacity="0.7"/><circle cx="127.5" cy="169.7" r="20.5" fill="#969696"/><circle cx="127.5" cy="169.7" r="15.2" fill="#4a4a4a"/><circle cx="127.5" cy="169.7" r="11.8" fill="#8a8a8a" stroke="#e6e6e6" stroke-width="4"/></g><g transform="translate(798.9,1234.3)"><rect x="0" y="0" width="154.8" height="207.3" rx="11.5" fill="#0a0a0a"/><rect x="3.5" y="3.4" width="147.8" height="200.5" rx="9" fill="none" stroke="#fafafa" stroke-width="1.6"/><rect x="22" y="22" width="110.4" height="163.2" rx="2" fill="none" stroke="#fafafa" stroke-width="2"/><rect x="28.2" y="33.9" width="39.9" height="18" fill="#fafafa"/><rect x="34.8" y="37.2" width="4.2" height="11.1" fill="#0a0a0a"/><rect x="41.7" y="36.3" width="2.7" height="13.2" fill="#0a0a0a"/><rect x="46.8" y="37.2" width="15" height="11.1" fill="#0a0a0a"/><rect x="28.2" y="58.2" width="39.9" height="18" fill="#fafafa"/><rect x="34.8" y="61.5" width="4.2" height="11.1" fill="#0a0a0a"/><rect x="41.7" y="60.6" width="2.7" height="13.2" fill="#0a0a0a"/><rect x="46.8" y="61.5" width="15" height="11.1" fill="#0a0a0a"/><rect x="28.2" y="82.5" width="39.9" height="18" fill="#fafafa"/><rect x="34.8" y="85.8" width="4.2" height="11.1" fill="#0a0a0a"/><rect x="41.7" y="84.9" width="2.7" height="13.2" fill="#0a0a0a"/><rect x="46.8" y="85.8" width="15" height="11.1" fill="#0a0a0a"/><rect x="28.2" y="106.8" width="39.9" height="18" fill="#fafafa"/><rect x="34.8" y="110.1" width="4.2" height="11.1" fill="#0a0a0a"/><rect x="41.7" y="109.2" width="2.7" height="13.2" fill="#0a0a0a"/><rect x="46.8" y="110.1" width="15" height="11.1" fill="#0a0a0a"/><rect x="28.2" y="131.1" width="39.9" height="18" fill="#fafafa"/><rect x="34.8" y="134.4" width="4.2" height="11.1" fill="#0a0a0a"/><rect x="41.7" y="133.5" width="2.7" height="13.2" fill="#0a0a0a"/><rect x="46.8" y="134.4" width="15" height="11.1" fill="#0a0a0a"/><rect x="28.2" y="155.4" width="39.9" height="18" fill="#fafafa"/><rect x="34.8" y="158.7" width="4.2" height="11.1" fill="#0a0a0a"/><rect x="41.7" y="157.8" width="2.7" height="13.2" fill="#0a0a0a"/><rect x="46.8" y="158.7" width="15" height="11.1" fill="#0a0a0a"/><rect x="83.6" y="33.9" width="39.9" height="18" fill="#fafafa"/><rect x="90.2" y="37.2" width="4.2" height="11.1" fill="#0a0a0a"/><rect x="97.1" y="36.3" width="2.7" height="13.2" fill="#0a0a0a"/><rect x="102.2" y="37.2" width="15" height="11.1" fill="#0a0a0a"/><rect x="83.6" y="58.2" width="39.9" height="18" fill="#fafafa"/><rect x="90.2" y="61.5" width="4.2" height="11.1" fill="#0a0a0a"/><rect x="97.1" y="60.6" width="2.7" height="13.2" fill="#0a0a0a"/><rect x="102.2" y="61.5" width="15" height="11.1" fill="#0a0a0a"/><rect x="83.6" y="82.5" width="39.9" height="18" fill="#fafafa"/><rect x="90.2" y="85.8" width="4.2" height="11.1" fill="#0a0a0a"/><rect x="97.1" y="84.9" width="2.7" height="13.2" fill="#0a0a0a"/><rect x="102.2" y="85.8" width="15" height="11.1" fill="#0a0a0a"/><rect x="83.6" y="106.8" width="39.9" height="18" fill="#fafafa"/><rect x="90.2" y="110.1" width="4.2" height="11.1" fill="#0a0a0a"/><rect x="97.1" y="109.2" width="2.7" height="13.2" fill="#0a0a0a"/><rect x="102.2" y="110.1" width="15" height="11.1" fill="#0a0a0a"/><rect x="83.6" y="131.1" width="39.9" height="18" fill="#fafafa"/><rect x="90.2" y="134.4" width="4.2" height="11.1" fill="#0a0a0a"/><rect x="97.1" y="133.5" width="2.7" height="13.2" fill="#0a0a0a"/><rect x="102.2" y="134.4" width="15" height="11.1" fill="#0a0a0a"/><rect x="83.6" y="155.4" width="39.9" height="18" fill="#fafafa"/><rect x="90.2" y="158.7" width="4.2" height="11.1" fill="#0a0a0a"/><rect x="97.1" y="157.8" width="2.7" height="13.2" fill="#0a0a0a"/><rect x="102.2" y="158.7" width="15" height="11.1" fill="#0a0a0a"/></g><g transform="translate(2.5,713.5)" fill="#000"><path d="M1303.6,583.3 L1303.6,533 Q1305,527 1318.3,522.7 L1398.8,520.4 Q1405.6,521 1405.6,525 L1405.6,567.4 Z"/><path d="M1299.6,596 Q1297,592 1303.6,591.2 L1412.4,579.3 L1421,579.5 L1442.5,508.5 Q1445,504 1449.5,504.5 Q1455,506 1453.5,511.5 Q1445,540 1426.7,586.5 L1415,586.5 Q1412,595 1402,595.5 L1383,595.8 L1382.9,630 L1381.8,659 L1337.4,659 Q1333,630 1330.8,625.8 Q1322,610 1310,602.6 Q1299,600 1299.6,596 Z"/><path d="M1330,671.4 L1383.6,671.4 L1383.6,714.3 Q1380,728 1361.6,734.1 L1354.3,710.7 Q1361,704 1360,698 Q1357,690 1345,689.5 L1333,690 Q1326,693 1321.3,700 L1318.3,690.1 Z"/><rect x="1321.3" y="710.3" width="27.8" height="8.1"/><rect x="1330.8" y="700.4" width="9.2" height="27.5"/></g><text transform="scale(0.92,1)" x="851.63" y="1110.7" font-family="'Liberation Sans', sans-serif" font-weight="bold" font-size="42.8" textLength="193.70" lengthAdjust="spacing" fill="#1a1a1a" stroke="#1a1a1a" stroke-width="0.6">Battery 1</text><text transform="scale(0.92,1)" x="1371.20" y="1110.7" font-family="'Liberation Sans', sans-serif" font-weight="bold" font-size="42.8" textLength="198.91" lengthAdjust="spacing" fill="#1a1a1a" stroke="#1a1a1a" stroke-width="0.6">Battery 2</text><text transform="scale(0.67,1)" x="1190.90" y="1217.4" font-family="'Liberation Sans', sans-serif" font-weight="bold" font-size="40" textLength="224.48" lengthAdjust="spacing" fill="#1a1a1a" stroke="#1a1a1a" stroke-width="0.6">Fuse Panel</text><text transform="scale(0.66,1)" x="1908.33" y="1208.5" font-family="'Liberation Sans', sans-serif" font-weight="bold" font-size="40" textLength="306.06" lengthAdjust="spacing" fill="#1a1a1a" stroke="#1a1a1a" stroke-width="0.5">Starter/Engine</text><path d="M1095.5,1209.0 L1054.0,1209.0 L1054.0,1345.5 L952.9,1345.5" fill="none" stroke="#ff0000" stroke-width="9.8" stroke-linejoin="miter" stroke-linecap="butt"/><path d="M1134.1,1211.4 L1176.0,1211.4 L1176.0,1345.5 L1335.5,1345.5" fill="none" stroke="#ff0000" stroke-width="9.8" stroke-linejoin="miter" stroke-linecap="butt"/><path d="M944.1,925.5 L944.1,899.0 L1077.4,899.0 L1077.4,1121.5" fill="none" stroke="#ff0000" stroke-width="9.8" stroke-linejoin="miter" stroke-linecap="butt"/><path d="M1419.1,925.5 L1419.1,902.3 L1162.5,902.3 L1162.5,1118.5" fill="none" stroke="#ff0000" stroke-width="9.8" stroke-linejoin="miter" stroke-linecap="butt"/><rect x="1089.7" y="1121.9" width="52.7" height="9.4" fill="#ff0000"/><rect x="1110.2" y="1139.7" width="9.3" height="27" fill="#ff0000"/><polygon points="1098.5,1164.9 1129.3,1164.9 1112.5,1191.9" fill="#ff0000"/>
</svg></body></html>
